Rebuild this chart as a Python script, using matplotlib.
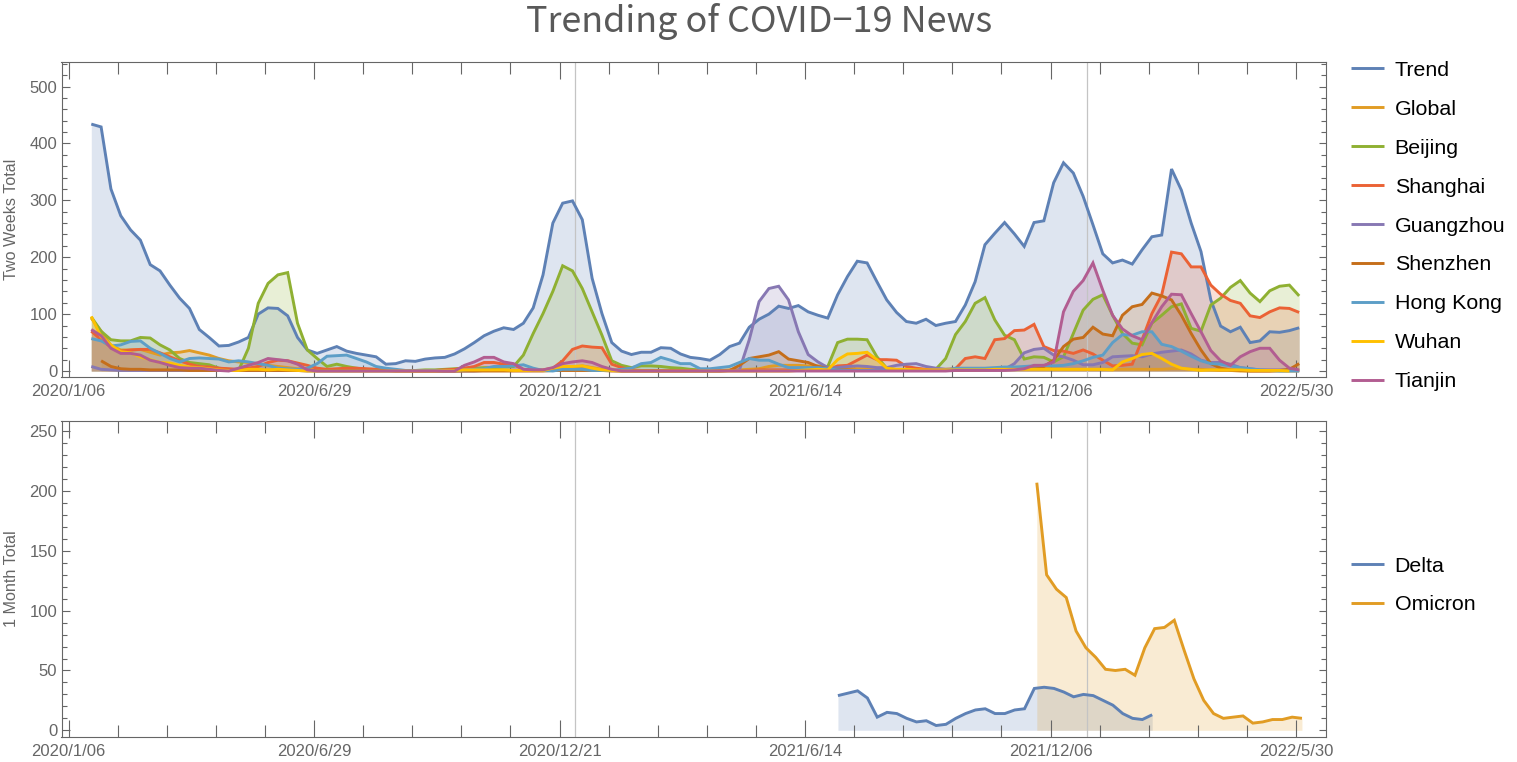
import matplotlib
matplotlib.use('Agg')
import matplotlib.pyplot as plt
from matplotlib.ticker import MultipleLocator
import numpy as np

nan = float('nan')

# weekly values (10 per row)
trend = [434, 429, 320, 273, 248, 230, 187, 176, 151, 128,
         110, 73, 59, 44, 45, 51, 59, 100, 111, 110,
         97, 59, 37, 31, 37, 43, 35, 31, 28, 25,
         12, 13, 18, 17, 21, 23, 24, 30, 39, 50,
         62, 70, 76, 73, 84, 111, 169, 260, 295, 299,
         266, 163, 101, 50, 35, 29, 33, 33, 41, 40,
         30, 24, 22, 19, 29, 43, 49, 77, 91, 100,
         114, 110, 115, 104, 98, 93, 134, 166, 193, 190,
         157, 125, 103, 87, 84, 91, 80, 84, 87, 116,
         157, 222, 242, 261, 241, 219, 261, 264, 331, 366,
         348, 307, 257, 206, 190, 195, 188, 213, 236, 239,
         355, 318, 260, 210, 125, 79, 69, 77, 50, 53,
         69, 68, 71, 76]
global_news = [93, 70, 45, 37, 37, 38, 33, 28, 32, 33,
               36, 32, 28, 22, 18, 16, 15, 12, 10, 8,
               6, 4, 3, 2, 1, 1, 1, 1, 1, 1,
               1, 1, 1, 0, 0, 0, 0, 0, 1, 1,
               1, 1, 1, 1, 1, 1, 1, 2, 4, 6,
               9, 6, 3, 2, 1, 1, 1, 1, 1, 1,
               1, 1, 1, 1, 1, 2, 2, 3, 4, 8,
               10, 10, 10, 9, 9, 8, 6, 5, 4, 4,
               3, 3, 2, 2, 1, 1, 1, 1, 1, 1,
               2, 2, 3, 4, 5, 5, 6, 5, 4, 3,
               3, 3, 3, 3, 3, 3, 3, 3, 3, 3,
               4, 4, 3, 3, 2, 1, 1, 0, 0, 0,
               0, 0, 0, 0]
beijing = [95, 70, 55, 53, 53, 59, 58, 46, 37, 22,
           15, 13, 11, 5, 3, 1, 40, 119, 154, 169,
           173, 84, 37, 22, 8, 12, 8, 5, 3, 3,
           1, 1, 1, 1, 2, 2, 3, 4, 5, 5,
           6, 6, 7, 8, 28, 66, 101, 140, 185, 176,
           145, 104, 63, 18, 10, 6, 9, 9, 8, 6,
           5, 3, 2, 1, 1, 1, 1, 1, 1, 1,
           1, 1, 1, 1, 1, 8, 50, 56, 56, 55,
           25, 5, 2, 1, 1, 1, 3, 22, 64, 87,
           119, 129, 90, 63, 55, 21, 25, 24, 16, 25,
           66, 107, 126, 134, 98, 66, 49, 46, 84, 98,
           113, 118, 75, 70, 116, 128, 147, 159, 137, 122,
           141, 149, 151, 132]
shanghai = [70, 55, 42, 35, 37, 38, 38, 32, 25, 18,
            12, 8, 7, 5, 4, 3, 5, 8, 15, 19,
            18, 14, 10, 5, 3, 4, 5, 5, 4, 3,
            1, 1, 1, 1, 1, 1, 2, 3, 5, 8,
            15, 15, 12, 11, 3, 2, 2, 5, 18, 38,
            44, 42, 41, 12, 6, 2, 1, 1, 1, 1,
            1, 1, 1, 1, 1, 1, 1, 1, 2, 2,
            2, 2, 2, 2, 2, 2, 9, 10, 19, 28,
            20, 20, 19, 8, 5, 3, 3, 3, 4, 22,
            25, 22, 55, 57, 71, 72, 82, 43, 36, 35,
            31, 37, 30, 19, 9, 10, 12, 55, 101, 134,
            209, 206, 183, 183, 151, 135, 124, 119, 97, 94,
            104, 111, 110, 103]
guangzhou = [8, 3, 2, 1, 1, 1, 1, 1, 1, 1,
             1, 1, 1, 1, 1, 1, 1, 1, 1, 1,
             1, 1, 0, 0, 0, 0, 0, 0, 0, 0,
             0, 0, 0, 0, 0, 0, 0, 0, 0, 0,
             1, 1, 1, 1, 1, 1, 1, 1, 3, 4,
             4, 3, 1, 1, 0, 0, 0, 0, 0, 0,
             0, 0, 0, 0, 0, 1, 2, 55, 122, 145,
             149, 125, 69, 29, 16, 6, 6, 8, 9, 8,
             6, 6, 10, 12, 13, 8, 5, 3, 3, 2,
             2, 2, 2, 3, 13, 32, 38, 40, 28, 25,
             19, 11, 11, 15, 25, 26, 27, 25, 30, 33,
             35, 37, 30, 19, 15, 15, 12, 6, 4, 2,
             2, 2, 2, 1]
shenzhen = [nan, 18, 8, 4, 3, 3, 2, 2, 2, 2,
            1, 1, 1, 1, 1, 1, 1, 1, 1, 1,
            1, 1, 1, 1, 1, 1, 1, 1, 1, 1,
            1, 0, 0, 0, 0, 0, 0, 0, 0, 0,
            0, 0, 0, 0, 0, 0, 0, 1, 1, 1,
            1, 1, 1, 0, 0, 0, 0, 0, 0, 0,
            0, 0, 0, 0, 0, 1, 10, 22, 25, 28,
            34, 21, 18, 15, 8, 4, 2, 2, 1, 1,
            1, 1, 1, 1, 1, 1, 1, 1, 1, 2,
            2, 3, 3, 3, 4, 5, 6, 8, 19, 43,
            56, 59, 77, 65, 62, 98, 113, 117, 137, 132,
            125, 98, 66, 37, 13, 5, 2, 1, 0, 0,
            0, 1, 3, 13]
hong_kong = [57, 53, 44, 46, 52, 53, 40, 31, 22, 16,
             22, 23, 22, 21, 16, 18, 16, 13, 10, 5,
             4, 3, 5, 13, 26, 27, 28, 22, 16, 8,
             5, 3, 1, 1, 1, 1, 1, 1, 2, 3,
             4, 8, 8, 9, 11, 5, 1, 0, 3, 3,
             3, 1, 1, 1, 3, 5, 13, 15, 24, 19,
             13, 13, 4, 4, 6, 8, 15, 22, 19, 19,
             12, 6, 6, 6, 6, 4, 2, 1, 1, 1,
             1, 1, 1, 1, 1, 1, 1, 1, 5, 5,
             5, 5, 6, 7, 7, 8, 9, 10, 9, 10,
             13, 18, 24, 28, 50, 64, 63, 69, 69, 47,
             43, 35, 26, 18, 13, 12, 9, 6, 4, 2,
             1, 0, 0, 0]
wuhan = [96, 60, 46, 34, 32, 25, 20, 15, 14, 10,
         7, 6, 4, 2, 1, 1, 3, 3, 2, 3,
         2, 1, 0, 0, 0, 0, 0, 0, 0, 0,
         0, 0, 0, 0, 0, 0, 1, 1, 2, 2,
         2, 2, 2, 1, 1, 1, 1, 5, 8, 8,
         9, 5, 2, 1, 0, 0, 0, 0, 0, 0,
         0, 0, 0, 0, 0, 0, 0, 0, 0, 0,
         0, 0, 1, 2, 3, 2, 20, 30, 31, 33,
         20, 5, 3, 3, 2, 2, 2, 2, 2, 2,
         2, 2, 3, 3, 3, 3, 3, 3, 3, 3,
         3, 3, 3, 3, 2, 16, 22, 29, 31, 22,
         12, 5, 3, 1, 2, 2, 2, 2, 1, 1,
         1, 1, 0]
tianjin = [73, 62, 40, 31, 31, 28, 19, 15, 10, 6,
           5, 5, 3, 1, 0, 5, 10, 15, 22, 20,
           18, 12, 2, 0, 0, 0, 0, 0, 0, 0,
           0, 0, 0, 0, 0, 0, 0, 0, 10, 16,
           24, 24, 16, 13, 3, 2, 2, 6, 13, 16,
           18, 15, 8, 3, 0, 0, 0, 0, 0, 0,
           0, 0, 0, 0, 0, 0, 0, 0, 0, 0,
           0, 0, 0, 0, 0, 0, 0, 0, 0, 0,
           0, 0, 0, 0, 0, 0, 0, 0, 1, 1,
           1, 1, 1, 1, 2, 4, 10, 10, 16, 104,
           140, 159, 190, 142, 98, 74, 62, 55, 85, 113,
           135, 134, 101, 69, 36, 18, 10, 25, 34, 40,
           40, 19, 5, 2]

delta = [29, 31, 33, 27, 11, 15, 14, 10, 7, 8, 4, 5, 10, 14, 17, 18, 14,
         14, 17, 18, 35, 36, 35, 32, 28, 30, 29, 25, 21, 14, 10, 9, 13]
omicron = [207, 130, 118, 111, 83, 69, 61, 51, 50, 51, 46, 69, 85, 86, 92,
           67, 43, 25, 14, 10, 11, 12, 6, 7, 9, 9, 11, 10]

city_labels = ['Trend', 'Global', 'Beijing', 'Shanghai', 'Guangzhou',
               'Shenzhen', 'Hong Kong', 'Wuhan', 'Tianjin']
city_series = [trend, global_news, beijing, shanghai, guangzhou,
               shenzhen, hong_kong, wuhan, tianjin]
variant_labels = ['Delta', 'Omicron']
variant_series = [delta, omicron]

# the x axis counts weeks from the first tick label
date_ticks = [0, 25, 50, 75, 100, 125]
date_labels = ['2020/1/06', '2020/6/29', '2020/12/21', '2021/6/14', '2021/12/06', '2022/5/30']
city_start = 2.32
variant_starts = [78.35, 98.6]
event_weeks = [51.6, 103.7]

colors = ['#5E81B5', '#E19C24', '#8FB032', '#EB6235', '#8778B3',
          '#C56E1A', '#5D9EC7', '#FFC000', '#B25D91']

W, H = 1517, 762
plt.rcParams['font.family'] = ['Liberation Sans', 'DejaVu Sans']
fig = plt.figure(figsize=(W / 100, H / 100), dpi=100)


def add_axes_px(left, top, right, bottom):
    return fig.add_axes([left / W, 1 - bottom / H, (right - left) / W, (bottom - top) / H])


def draw_series(ax, series, labels, starts):
    for i, (values, label) in enumerate(zip(series, labels)):
        x = starts[i] + np.arange(len(values))
        ax.fill_between(x, 0, values, color=colors[i], alpha=0.2, linewidth=0, zorder=1)
        ax.plot(x, values, color=colors[i], lw=2.1, label=label, zorder=3 + i,
                solid_joinstyle='miter', solid_capstyle='butt')


def style_axes(ax, ylabel, ylim, y_major, y_minor, legend_y):
    for week in event_weeks:
        ax.axvline(week, color='#c4c4c4', lw=0.9, zorder=2)
    ax.set_xlim(-0.713, 128.05)
    ax.set_ylim(*ylim)
    ax.set_xticks(date_ticks)
    ax.set_xticklabels(date_labels)
    ax.xaxis.set_minor_locator(MultipleLocator(5))
    ax.yaxis.set_major_locator(MultipleLocator(y_major))
    ax.yaxis.set_minor_locator(MultipleLocator(y_minor))
    ax.tick_params(axis='x', which='major', direction='in', top=True, length=12.2, width=0.8,
                   color='#666666', labelcolor='#666666', labelsize=12, pad=5)
    ax.tick_params(axis='x', which='minor', direction='in', top=True, length=8.6, width=0.8,
                   color='#666666')
    ax.tick_params(axis='y', which='major', direction='in', right=True, length=5.4, width=0.8,
                   color='#666666', labelcolor='#666666', labelsize=12, pad=3)
    ax.tick_params(axis='y', which='minor', direction='in', right=True, length=3.4, width=0.8,
                   color='#666666')
    for spine in ax.spines.values():
        spine.set_color('#666666')
        spine.set_linewidth(0.8)
    ax.set_ylabel(ylabel, fontsize=11.6, color='#666666')
    ax.yaxis.set_label_coords(-0.0337, 0.5)
    ax.legend(loc='center left', bbox_to_anchor=(1351 / W, 1 - legend_y / H),
              bbox_transform=fig.transFigure, frameon=False, fontsize=15.4, borderpad=0,
              borderaxespad=0, handlelength=1.54, handletextpad=0.5, labelspacing=0.93,
              labelcolor='black')


ax_top = add_axes_px(61.5, 61.5, 1326, 377)
draw_series(ax_top, city_series, city_labels, [city_start] * len(city_series))
style_axes(ax_top, 'Two Weeks Total', (-10.5, 544), 100, 20, 226)

ax_bottom = add_axes_px(61.5, 420.5, 1326, 737)
draw_series(ax_bottom, variant_series, variant_labels, variant_starts)
style_axes(ax_bottom, '1 Month Total', (-5.6, 259), 50, 10, 585.5)

fig.text(759 / W, 1 - 22 / H, 'Trending of COVID\u221219 News', ha='center', va='center',
         fontsize=25.9, color='#595959', family=['Noto Sans CJK SC', 'DejaVu Sans'])

fig.savefig('out.png', dpi=100)
